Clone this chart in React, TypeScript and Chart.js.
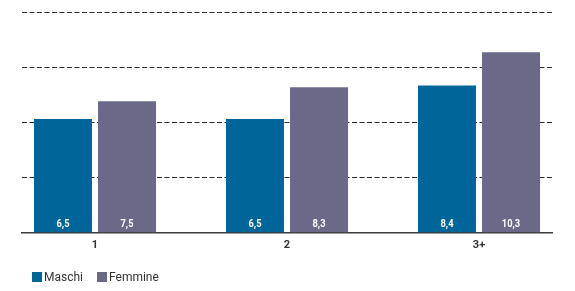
import React, { useEffect, useRef } from "react";
import { Chart, registerables } from "chart.js";

Chart.register(...registerables);

const categories = ["1", "2", "3+"];
const maschi = [6.5, 6.5, 8.4];
const femmine = [7.5, 8.3, 10.3];
const seriesNames = ["Maschi", "Femmine"];
const colors = ["#006699", "#6a6a88"];
const yMax = 12.6;
const yTicks = [0, 3.15, 6.3, 9.45, 12.6];

const valueLabels = {
  id: "valueLabels",
  afterDatasetsDraw(chart: any) {
    const ctx = chart.ctx;
    chart.data.datasets.forEach((ds: any, di: number) => {
      const meta = chart.getDatasetMeta(di);
      meta.data.forEach((bar: any, i: number) => {
        const v = ds.data[i].y;
        ctx.save();
        ctx.fillStyle = "#ffffff";
        ctx.font = "bold 11px Roboto, sans-serif";
        ctx.textAlign = "center";
        ctx.textBaseline = "middle";
        ctx.translate(bar.x, bar.base - 8);
        ctx.scale(0.85, 1);
        ctx.fillText(String(v).replace(".", ","), 0, 0);
        ctx.restore();
      });
    });
  },
};

export default function App() {
  const ref = useRef<HTMLCanvasElement>(null);
  useEffect(() => {
    document.body.style.margin = "0";
    const chart = new Chart(ref.current!, {
      type: "bar",
      data: {
        datasets: [
          {
            label: seriesNames[0],
            data: maschi.map((v, i) => ({ x: i + 1, y: v })),
            backgroundColor: colors[0],
          },
          {
            label: seriesNames[1],
            data: femmine.map((v, i) => ({ x: i + 1, y: v })),
            backgroundColor: colors[1],
          },
        ] as any,
      },
      options: {
        animation: false,
        responsive: false,
        maintainAspectRatio: false,
        datasets: { bar: { categoryPercentage: 0.667, barPercentage: 0.906 } } as any,
        layout: { padding: { left: 22, right: 23, top: 12, bottom: 33 } },
        plugins: { legend: { display: false }, tooltip: { enabled: false } },
        scales: {
          x: {
            type: "linear",
            offset: false,
            bounds: "data",
            min: 1 - 73 / 192,
            max: 3 + 73 / 192,
            afterBuildTicks: (s: any) => {
              s.ticks = categories.map((_, i) => ({ value: i + 1 }));
            },
            grid: { display: false, drawTicks: false, offset: false },
            border: { display: true, color: "#3a3a3a", width: 1.5 },
            ticks: {
              padding: 6,
              color: "#333",
              font: { family: "Roboto", size: 11, weight: "bold" },
              callback: (v: any) => categories[Math.round(v) - 1] ?? "",
            },
          },
          y: {
            min: 0,
            max: yMax,
            afterBuildTicks: (s: any) => {
              s.ticks = yTicks.map((v) => ({ value: v }));
            },
            ticks: { display: false },
            grid: {
              drawTicks: false,
              color: (c: any) => (c.tick && c.tick.value === 0 ? "rgba(0,0,0,0)" : "#2a2a2a"),
              lineWidth: 1,
            },
            border: { display: false, dash: [5, 2.5] },
          },
        },
      } as any,
      plugins: [valueLabels],
    });
    return () => chart.destroy();
  }, []);

  return (
    <div style={{ position: "relative", width: 575, height: 291 }}>
      <canvas ref={ref} width={575} height={291} style={{ display: "block" }} />
      <div
        style={{
          position: "absolute",
          left: 32,
          top: 270,
          display: "flex",
          fontFamily: "Roboto, sans-serif",
          fontSize: 12,
          color: "#333",
          lineHeight: "14px",
        }}
      >
        {seriesNames.map((n, i) => (
          <div key={n} style={{ display: "flex", alignItems: "center", marginRight: 14 }}>
            <span style={{ width: 10, height: 10, background: colors[i], marginRight: 2, display: "inline-block" }} />
            <span>{n}</span>
          </div>
        ))}
      </div>
    </div>
  );
}
